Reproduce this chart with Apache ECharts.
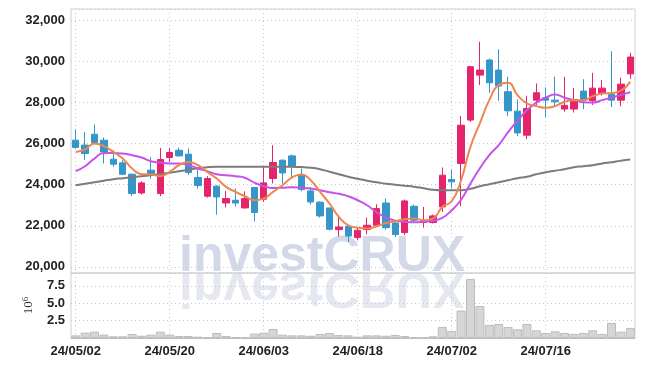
<!DOCTYPE html>
<html>
<head>
<meta charset="utf-8">
<script src="https://cdn.jsdelivr.net/npm/echarts@6/dist/echarts.min.js"></script>
<style>
  html, body { margin: 0; padding: 0; background: #fff; }
  #main { width: 645px; height: 366px; }
</style>
</head>
<body>
<div id="main"></div>
<script>
// 거래일 (yy/mm/dd)
var dates = [
  '24/05/02','24/05/03','24/05/07','24/05/08','24/05/09','24/05/10','24/05/13','24/05/14','24/05/16','24/05/17',
  '24/05/20','24/05/21','24/05/22','24/05/23','24/05/24','24/05/27','24/05/28','24/05/29','24/05/30','24/05/31',
  '24/06/03','24/06/04','24/06/05','24/06/07','24/06/10','24/06/11','24/06/12','24/06/13','24/06/14','24/06/17',
  '24/06/18','24/06/19','24/06/20','24/06/21','24/06/24','24/06/25','24/06/26','24/06/27','24/06/28','24/07/01',
  '24/07/02','24/07/03','24/07/04','24/07/05','24/07/08','24/07/09','24/07/10','24/07/11','24/07/12','24/07/15',
  '24/07/16','24/07/17','24/07/18','24/07/19','24/07/22','24/07/23','24/07/24','24/07/25','24/07/26','24/07/29'
];

// 시가 / 종가 / 저가 / 고가
var openPrices = [
  26170,25930,26460,26170,25245,25065,24510,23600,24710,23570,
  25325,25680,25490,24350,23440,23930,23110,23245,22870,23865,
  23295,24300,25195,25405,24500,23700,23150,22870,21815,21975,
  21425,21825,22025,23110,22135,21670,22950,22160,22160,22920,
  24255,25035,27150,29340,30075,29585,28530,27585,26415,28120,
  28235,28120,27685,27685,28560,28090,28445,28400,28120,29400
];
var closePrices = [
  25815,25520,26060,25600,25000,24510,23570,24090,24550,25230,
  25570,25405,24595,23960,24300,23405,23325,23110,23325,22645,
  24090,25080,24575,24915,23765,23160,22480,21830,21940,21500,
  21780,22025,22840,21910,21570,23210,22270,22220,22480,24465,
  24140,26900,29750,29585,28965,28805,27600,26525,27715,28480,
  28120,28040,27865,28150,28120,28705,28705,28120,28900,30220
];
var lowPrices = [
  25760,25200,26010,25035,24870,24465,23455,23520,24300,23440,
  25110,25380,24465,23815,23375,22545,22890,22940,22840,22220,
  23160,24060,24060,24380,23680,23035,22400,21780,21475,21210,
  21300,21585,21940,21815,21450,21540,22185,21910,22110,22675,
  23815,22950,27060,28855,28470,28090,27340,26365,26220,27880,
  27305,27830,27550,27520,27680,27880,28340,27780,27830,29155
];
var highPrices = [
  26690,26575,26935,26300,25680,25195,24545,24170,25355,25795,
  25795,25815,25765,24740,24415,23975,23700,23815,23680,23895,
  24870,25925,25230,25475,24790,23890,23195,22870,22430,22025,
  21915,22400,23050,23325,22185,23280,23035,22920,22550,24840,
  24740,27340,29780,30965,30155,30600,29260,28155,28335,28935,
  28740,29260,29260,28720,29140,29450,29100,30500,29210,30425
];

// 거래량 (백만 주)
var volumes = [
  0.38,0.77,0.91,0.48,0.24,0.24,0.58,0.33,0.48,0.91,
  0.48,0.29,0.29,0.19,0.10,0.72,0.29,0.14,0.14,0.63,
  0.77,1.30,0.48,0.38,0.38,0.33,0.58,0.72,0.43,0.38,
  0.19,0.38,0.38,0.33,0.43,0.29,0.14,0.14,0.24,1.59,
  1.01,3.95,8.50,4.60,1.88,2.02,1.59,1.25,2.02,1.10,
  0.72,0.96,0.72,0.58,0.72,1.10,0.58,2.17,0.91,1.45
];

// 이동평균선
var ma5 = [
  25600,25715,26010,25880,25600,25280,24790,24510,24500,24415,
  24625,24950,25110,24950,24625,24300,23895,23650,23440,23245,
  23325,23650,23975,24350,24500,24220,23650,23085,22430,22025,
  21910,21865,21975,22135,22220,22320,22350,22270,22350,22920,
  23195,24220,25850,27000,28120,28855,28965,28365,27960,27830,
  27750,27830,28040,28120,28120,28310,28440,28470,28580,29010
];
var ma20 = [
  24660,24900,25280,25550,25550,25520,25440,25325,25145,25080,
  25035,25035,24950,24790,24660,24510,24465,24415,24340,24100,
  23930,23845,23855,23880,23855,23815,23730,23635,23560,23440,
  23245,23000,22660,22415,22245,22195,22170,22195,22245,22390,
  22755,23270,24060,24800,25440,25930,26560,27120,27630,28000,
  28240,28390,28240,28120,28020,28000,28120,28240,28370,28510
];
var ma60 = [
  23976,24049,24122,24195,24268,24317,24366,24415,24463,24512,
  24585,24659,24732,24805,24854,24878,24880,24880,24880,24880,
  24880,24880,24878,24870,24860,24829,24756,24634,24512,24390,
  24293,24195,24122,24049,24000,23951,23902,23829,23756,23732,
  23732,23732,23805,23927,24024,24122,24220,24317,24390,24512,
  24610,24683,24756,24854,24902,24951,25034,25098,25171,25229
];

var candleData = [];
for (var i = 0; i < dates.length; i++) {
  candleData.push([openPrices[i], closePrices[i], lowPrices[i], highPrices[i]]);
}

var myChart = echarts.init(document.getElementById('main'));

var labelFont = { color: '#222', fontSize: 13, fontWeight: 'bold', fontFamily: '"Liberation Sans", Arial, sans-serif' };
var dotted = { color: '#c9c9d6', type: [1, 3], width: 1 };
var wmFont = 'bold 50px "Liberation Sans", Arial, sans-serif';

var option = {
  animation: false,
  backgroundColor: '#fff',
  grid: [
    { left: 71, right: 10, top: 9, height: 264, show: true, borderColor: '#d0d0d0', borderWidth: 1 },
    { left: 71, right: 10, top: 273, height: 65, show: true, borderColor: '#d0d0d0', borderWidth: 1 }
  ],
  graphic: [
    {
      type: 'text', x: 179, y: 272, z: 0,
      style: { x: 0, y: 10, text: 'investCRUX', verticalAlign: 'bottom', font: wmFont, fill: '#d3d9e8' }
    },
    {
      type: 'text', x: 179, y: 272, scaleY: -1, z: 0,
      style: { x: 0, y: 10, text: 'investCRUX', verticalAlign: 'bottom', font: wmFont, fill: '#d3d9e8', opacity: 0.6 }
    }
  ],
  xAxis: [
    {
      type: 'category', gridIndex: 0, data: dates, boundaryGap: true,
      axisLine: { show: false }, axisTick: { show: false }, axisLabel: { show: false },
      splitLine: { show: true, interval: 9, alignWithLabel: true, lineStyle: dotted }
    },
    {
      type: 'category', gridIndex: 1, data: dates, boundaryGap: true,
      axisLine: { show: true, lineStyle: { color: '#c0c0c0' } },
      axisTick: { show: false },
      axisLabel: Object.assign({ interval: 9, margin: 7 }, labelFont),
      splitLine: { show: true, interval: 9, alignWithLabel: true, lineStyle: dotted }
    }
  ],
  yAxis: [
    {
      type: 'value', gridIndex: 0, min: 19700, max: 32560, splitNumber: 6, scale: true,
      axisLine: { show: false }, axisTick: { show: false },
      axisLabel: Object.assign({ margin: 6, showMinLabel: false, showMaxLabel: false }, labelFont),
      splitLine: { show: true, lineStyle: dotted }
    },
    {
      type: 'value', gridIndex: 1, min: 0, max: 9.35, interval: 2.5,
      name: '{a|10}{b|6}', nameLocation: 'middle', nameRotate: 90, nameGap: 34,
      nameTextStyle: {
        color: '#333',
        rich: {
          a: { fontSize: 13, fontFamily: '"Liberation Serif", serif', color: '#333' },
          b: { fontSize: 9, fontFamily: '"Liberation Serif", serif', color: '#333', padding: [0, 0, 7, 0] }
        }
      },
      axisLine: { show: false }, axisTick: { show: false },
      axisLabel: Object.assign({ margin: 6, showMinLabel: false, showMaxLabel: false,
        formatter: function (v) { return v.toFixed(1); } }, labelFont),
      splitLine: { show: true, lineStyle: dotted }
    }
  ],
  series: [
    {
      name: '주가', type: 'candlestick', xAxisIndex: 0, yAxisIndex: 0, z: 3,
      data: candleData, barWidth: 7,
      itemStyle: {
        color: '#e5246b', color0: '#3496c9',
        borderColor: '#e5246b', borderColor0: '#3496c9', borderWidth: 1
      }
    },
    {
      name: 'MA60', type: 'line', xAxisIndex: 0, yAxisIndex: 0, data: ma60, z: 4,
      smooth: true, showSymbol: false, lineStyle: { color: '#7c7c7c', width: 2 }
    },
    {
      name: 'MA20', type: 'line', xAxisIndex: 0, yAxisIndex: 0, data: ma20, z: 4,
      smooth: true, showSymbol: false, lineStyle: { color: '#c652ea', width: 2 }
    },
    {
      name: 'MA5', type: 'line', xAxisIndex: 0, yAxisIndex: 0, data: ma5, z: 4,
      smooth: true, showSymbol: false, lineStyle: { color: '#ee8650', width: 2 }
    },
    {
      name: '거래량', type: 'bar', xAxisIndex: 1, yAxisIndex: 1, data: volumes,
      barCategoryGap: '4%', z: 3,
      itemStyle: { color: '#d6d6d6', borderColor: '#bdbdbd', borderWidth: 1 }
    }
  ]
};

myChart.setOption(option);
</script>
</body>
</html>
